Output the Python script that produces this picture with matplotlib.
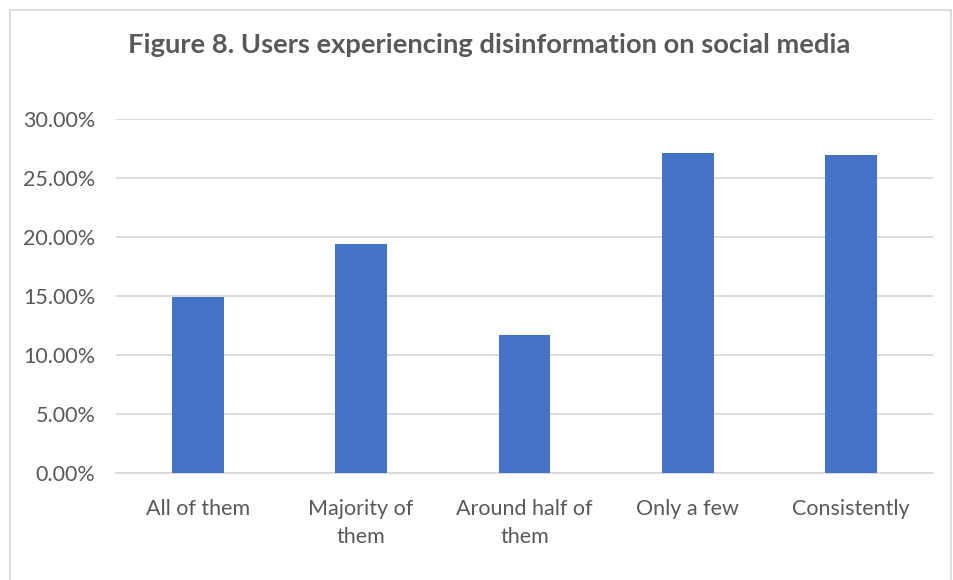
import matplotlib.pyplot as plt
from matplotlib.patches import Rectangle
from matplotlib.ticker import PercentFormatter

# share of users by how often they meet disinformation
categories = ["All of them", "Majority of\nthem", "Around half of\nthem", "Only a few", "Consistently"]
shares = [14.95, 19.4, 11.72, 27.1, 26.92]
yticks = [0, 5, 10, 15, 20, 25, 30]

plt.rcParams['font.family'] = ['Lato', 'DejaVu Sans']
grey = '#595959'

fig = plt.figure(figsize=(9.54, 5.80), dpi=100)
ax = fig.add_axes([116 / 954, 1 - 473.3 / 580, (933 - 116) / 954, (473.3 - 119) / 580])

ax.bar(range(len(categories)), shares, width=0.318, color='#4472c4', zorder=3)

ax.set_xlim(-0.5, len(categories) - 0.5)
ax.set_ylim(0, 30)
ax.set_yticks(yticks)
ax.yaxis.set_major_formatter(PercentFormatter(decimals=2))
ax.set_xticks(range(len(categories)))
ax.set_xticklabels(categories, linespacing=1.5)

ax.grid(axis='y', color='#d9d9d9', linewidth=1.3, zorder=0)
for side in ['top', 'right', 'left']:
    ax.spines[side].set_visible(False)
ax.spines['bottom'].set_color('#d9d9d9')
ax.spines['bottom'].set_linewidth(1.3)
ax.tick_params(axis='both', length=0, labelsize=15.5, colors=grey)
ax.tick_params(axis='y', pad=15)
ax.tick_params(axis='x', pad=18.5)

fig.text(489 / 954, 1 - 45 / 580, "Figure 8. Users experiencing disinformation on social media",
         ha='center', va='center', fontsize=19.7, fontweight='bold', color=grey)

# light frame around the chart area
fig.patches.append(Rectangle((10 / 954, -0.1), 941 / 954, 1.1 - 10 / 580, transform=fig.transFigure,
                             fill=False, edgecolor='#d9d9d9', linewidth=1.3))

fig.savefig("out.png", dpi=100)
